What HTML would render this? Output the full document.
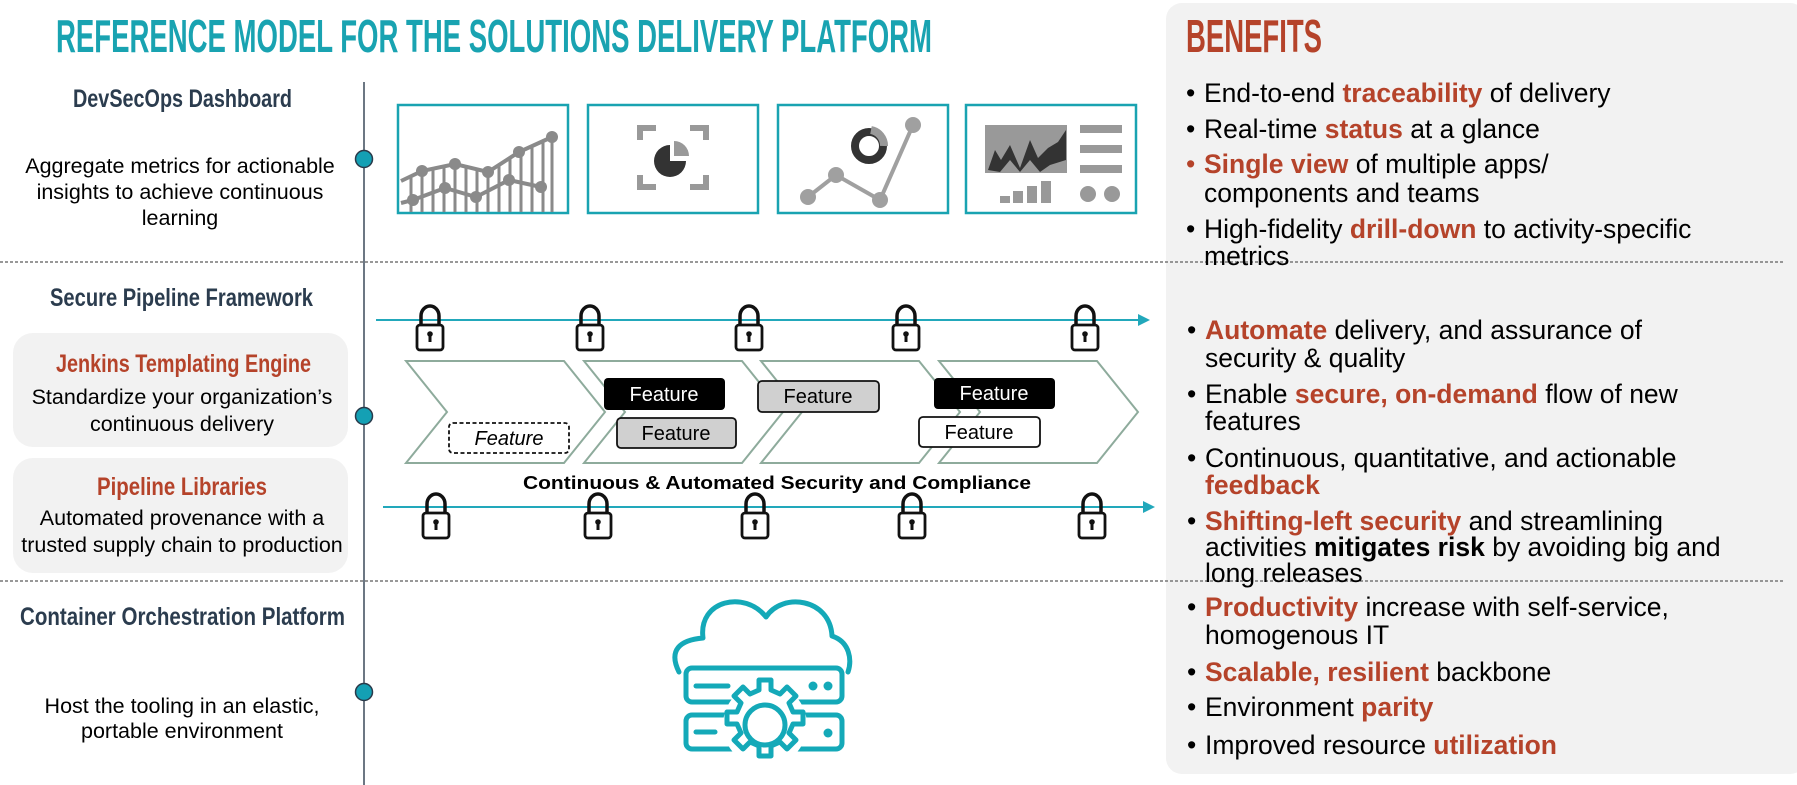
<!DOCTYPE html>
<html><head><meta charset="utf-8"><style>
html,body{margin:0;padding:0;background:#fff;}
svg{display:block;}
text{font-family:"Liberation Sans",sans-serif;}
</style></head><body>
<svg width="1797" height="785" viewBox="0 0 1797 785" xmlns="http://www.w3.org/2000/svg">
<defs>
<g id="lock">
<path d="M-9,0 V-9 A9,10 0 0 1 9,-9 V0" fill="none" stroke="#111" stroke-width="3.5"/>
<rect x="-13" y="0" width="26" height="25" rx="3" fill="#fff" stroke="#111" stroke-width="2.8"/>
<circle cx="0" cy="9" r="2.8" fill="#111"/><rect x="-1.5" y="9" width="3" height="8" fill="#111"/>
</g>
</defs>
<rect x="1166" y="3" width="640" height="771" rx="16" fill="#f2f2f2"/>
<text x="56" y="52" font-size="46" font-weight="bold" fill="#19a3b1" textLength="876" lengthAdjust="spacingAndGlyphs">REFERENCE MODEL FOR THE SOLUTIONS DELIVERY PLATFORM</text>
<text x="1186" y="52" font-size="46" font-weight="bold" fill="#b5432a" textLength="136" lengthAdjust="spacingAndGlyphs">BENEFITS</text>
<line x1="0" y1="262" x2="1785" y2="262" stroke="#777" stroke-width="1.5" stroke-dasharray="3,2"/>
<line x1="0" y1="581" x2="1785" y2="581" stroke="#777" stroke-width="1.5" stroke-dasharray="3,2"/>
<line x1="364" y1="82" x2="364" y2="785" stroke="#3b4a5a" stroke-width="1.5"/>
<circle cx="364" cy="159" r="8.5" fill="#14a0b4" stroke="#2a3a4a" stroke-width="1.5"/>
<circle cx="364" cy="416" r="8.5" fill="#14a0b4" stroke="#2a3a4a" stroke-width="1.5"/>
<circle cx="364" cy="692" r="8.5" fill="#14a0b4" stroke="#2a3a4a" stroke-width="1.5"/>
<g fill="#2b3c4e" font-weight="bold" font-size="25">
<text x="73" y="107" textLength="219" lengthAdjust="spacingAndGlyphs">DevSecOps Dashboard</text>
<text x="50" y="306" textLength="263" lengthAdjust="spacingAndGlyphs">Secure Pipeline Framework</text>
<text x="20" y="625" textLength="325" lengthAdjust="spacingAndGlyphs">Container Orchestration Platform</text>
</g>
<g font-size="21.5" fill="#000" text-anchor="middle">
<text x="180" y="173">Aggregate metrics for actionable</text>
<text x="180" y="199">insights to achieve continuous</text>
<text x="180" y="225">learning</text>
<text x="182" y="713">Host the tooling in an elastic,</text>
<text x="182" y="738">portable environment</text>
</g>
<rect x="13" y="333" width="335" height="114" rx="20" fill="#f2f2f2"/>
<rect x="13" y="458" width="335" height="115" rx="20" fill="#f2f2f2"/>
<g fill="#b5432a" font-weight="bold" font-size="25">
<text x="56" y="372" textLength="255" lengthAdjust="spacingAndGlyphs">Jenkins Templating Engine</text>
<text x="97" y="495" textLength="170" lengthAdjust="spacingAndGlyphs">Pipeline Libraries</text>
</g>
<g font-size="21.5" fill="#000" text-anchor="middle">
<text x="182" y="404">Standardize your organization’s</text>
<text x="182" y="431">continuous delivery</text>
<text x="182" y="525">Automated provenance with a</text>
<text x="182" y="552">trusted supply chain to production</text>
</g>
<g fill="#fff" stroke="#19a3b1" stroke-width="2.5">
<rect x="398" y="105" width="170" height="108"/>
<rect x="588" y="105" width="170" height="108"/>
<rect x="778" y="105" width="170" height="108"/>
<rect x="966" y="105" width="170" height="108"/>
</g>
<g stroke="#8a8a8a" stroke-width="3" fill="none">
<path d="M411,176V212M422,171V212M433,169V212M444,167V212M455,164V212M466,167V212M477,170V212M488,172V212M499,165V212M510,158V212M521,151V212M532,146V212M543,141V212M552,137V212"/>
<path d="M401,181L422,171L455,164L488,172L519,152L552,137" stroke-width="4"/>
<path d="M401,203L413,200L445,188L476,197L509,180L541,187" stroke-width="4"/>
</g>
<g fill="#8a8a8a">
<circle cx="422" cy="171" r="6"/><circle cx="455" cy="164" r="6"/><circle cx="488" cy="172" r="6"/><circle cx="519" cy="152" r="6"/><circle cx="552" cy="137" r="6"/>
<circle cx="413" cy="200" r="6"/><circle cx="445" cy="188" r="6"/><circle cx="476" cy="197" r="6"/><circle cx="509" cy="180" r="6"/><circle cx="541" cy="187" r="6"/>
</g>
<g fill="none" stroke="#999" stroke-width="6">
<path d="M640,140V128H656M690,128H706V140M640,175V187H656M690,187H706V175"/>
</g>
<path d="M670,145 A16,16 0 1 0 686,161 H670Z" fill="#333"/>
<path d="M674,141 A15,15 0 0 1 689,156 H674Z" fill="#999"/>
<g stroke="#a0a0a0" stroke-width="4" fill="none"><path d="M808,197L836,175L880,200L913,125"/></g>
<g fill="#a0a0a0"><circle cx="808" cy="197" r="8"/><circle cx="836" cy="175" r="8"/><circle cx="880" cy="200" r="8"/><circle cx="913" cy="125" r="8"/></g>
<circle cx="869" cy="146" r="14" fill="none" stroke="#333" stroke-width="8"/>
<path d="M871,130 A16,16 0 0 1 884,146" fill="none" stroke="#999" stroke-width="8"/>
<rect x="985" y="125" width="82" height="48" fill="#999"/>
<path d="M988,170L995,150L1001,160L1010,145L1020,168L1030,140L1038,158L1048,148L1058,142L1066,130V160L1050,165L1040,172L1030,160L1020,172L1010,160L1000,172Z" fill="#333"/>
<g fill="#999"><rect x="1080" y="125" width="42" height="8"/><rect x="1080" y="145" width="42" height="8"/><rect x="1080" y="165" width="42" height="8"/>
<rect x="1000" y="196" width="10" height="7"/><rect x="1013" y="191" width="10" height="12"/><rect x="1027" y="186" width="10" height="17"/><rect x="1041" y="181" width="10" height="22"/>
<circle cx="1088" cy="194" r="8"/><circle cx="1112" cy="194" r="8"/></g>
<line x1="376" y1="320" x2="1140" y2="320" stroke="#22a8bb" stroke-width="2"/>
<path d="M1138,314L1150,320L1138,326Z" fill="#22a8bb"/>
<line x1="383" y1="507" x2="1145" y2="507" stroke="#22a8bb" stroke-width="2"/>
<path d="M1143,501L1155,507L1143,513Z" fill="#22a8bb"/>
<use href="#lock" x="430" y="325"/><use href="#lock" x="590" y="325"/><use href="#lock" x="749" y="325"/><use href="#lock" x="906" y="325"/><use href="#lock" x="1085" y="325"/>
<use href="#lock" x="436" y="513"/><use href="#lock" x="598" y="513"/><use href="#lock" x="755" y="513"/><use href="#lock" x="912" y="513"/><use href="#lock" x="1092" y="513"/>
<g fill="#fff" stroke="#8eab9c" stroke-width="2">
<path d="M406,361H564L605,412L564,463H406L447,412Z"/>
<path d="M584,361H742L783,412L742,463H584L625,412Z"/>
<path d="M761,361H919L960,412L919,463H761L802,412Z"/>
<path d="M939,361H1097L1138,412L1097,463H939L980,412Z"/>
</g>
<rect x="449" y="423" width="120" height="30" rx="4" fill="#fff" stroke="#111" stroke-width="1.8" stroke-dasharray="4,2.5"/>
<text x="509" y="445" font-size="20" font-style="italic" text-anchor="middle">Feature</text>
<rect x="604" y="378" width="121" height="32" rx="4" fill="#000"/>
<text x="664" y="401" font-size="20" fill="#fff" text-anchor="middle">Feature</text>
<rect x="617" y="418" width="119" height="30" rx="4" fill="#d0d0d0" stroke="#111" stroke-width="1.8"/>
<text x="676" y="440" font-size="20" text-anchor="middle">Feature</text>
<rect x="758" y="381" width="121" height="31" rx="4" fill="#d0d0d0" stroke="#111" stroke-width="1.8"/>
<text x="818" y="403" font-size="20" text-anchor="middle">Feature</text>
<rect x="934" y="378" width="121" height="31" rx="4" fill="#000"/>
<text x="994" y="400" font-size="20" fill="#fff" text-anchor="middle">Feature</text>
<rect x="919" y="417" width="121" height="30" rx="4" fill="#fff" stroke="#111" stroke-width="1.8"/>
<text x="979" y="439" font-size="20" text-anchor="middle">Feature</text>
<text x="523" y="489" font-size="18" font-weight="bold" textLength="508" lengthAdjust="spacingAndGlyphs">Continuous &amp; Automated Security and Compliance</text>
<g fill="none" stroke="#14a9b8" stroke-width="5" stroke-linejoin="round" stroke-linecap="round">
<path d="M679,672 C668,650 680,640 703,638 C698,600 745,590 766,617 C782,592 830,598 832,636 C850,642 852,660 848,672"/>
<rect x="686" y="668" width="156" height="34" rx="6"/>
<rect x="686" y="715" width="156" height="34" rx="6"/>
<line x1="696" y1="686" x2="728" y2="686"/><line x1="696" y1="732" x2="715" y2="732"/>
</g>
<g fill="#14a9b8"><circle cx="813" cy="686" r="4.5"/><circle cx="828" cy="686" r="4.5"/><circle cx="828" cy="733" r="4.5"/></g>
<circle cx="765" cy="725" r="42" fill="#fff" stroke="none"/>
<g fill="#fff" stroke="#14a9b8" stroke-width="5" stroke-linejoin="round">
<path d="M759,680h12v10l9,4l7,-7l9,9l-7,7l4,9h10v12h-10l-4,9l7,7l-9,9l-7,-7l-9,4v10h-12v-10l-9,-4l-7,7l-9,-9l7,-7l-4,-9h-10v-12h10l4,-9l-7,-7l9,-9l7,7l9,-4Z"/>
<circle cx="765" cy="725" r="20"/>
</g>
<g font-size="26.5" fill="#000">
<text x="1186" y="102">•</text><text x="1204" y="102">End-to-end <tspan fill="#b5432a" font-weight="bold">traceability</tspan> of delivery</text>
<text x="1186" y="138">•</text><text x="1204" y="138">Real-time <tspan fill="#b5432a" font-weight="bold">status</tspan> at a glance</text>
<text x="1186" y="173" fill="#b5432a">•</text><text x="1204" y="173"><tspan fill="#b5432a" font-weight="bold">Single view</tspan> of multiple apps/</text>
<text x="1204" y="202">components and teams</text>
<text x="1186" y="238">•</text><text x="1204" y="238">High-fidelity <tspan fill="#b5432a" font-weight="bold">drill-down</tspan> to activity-specific</text>
<text x="1204" y="265">metrics</text>
<text x="1187" y="339">•</text><text x="1205" y="339"><tspan fill="#b5432a" font-weight="bold">Automate</tspan>  delivery, and assurance of</text>
<text x="1205" y="367">security &amp; quality</text>
<text x="1187" y="403">•</text><text x="1205" y="403">Enable <tspan fill="#b5432a" font-weight="bold">secure, on-demand</tspan>  flow of new</text>
<text x="1205" y="430">features</text>
<text x="1187" y="467">•</text><text x="1205" y="467">Continuous, quantitative, and actionable</text>
<text x="1205" y="494" fill="#b5432a" font-weight="bold">feedback</text>
<text x="1187" y="530">•</text><text x="1205" y="530"><tspan fill="#b5432a" font-weight="bold">Shifting-left security</tspan> and streamlining</text>
<text x="1205" y="556">activities <tspan font-weight="bold">mitigates risk</tspan> by avoiding big and</text>
<text x="1205" y="582">long releases</text>
<text x="1187" y="616">•</text><text x="1205" y="616"><tspan fill="#b5432a" font-weight="bold">Productivity</tspan> increase with self-service,</text>
<text x="1205" y="644">homogenous IT</text>
<text x="1187" y="681">•</text><text x="1205" y="681"><tspan fill="#b5432a" font-weight="bold">Scalable, resilient</tspan> backbone</text>
<text x="1187" y="716">•</text><text x="1205" y="716">Environment <tspan fill="#b5432a" font-weight="bold">parity</tspan></text>
<text x="1187" y="754">•</text><text x="1205" y="754">Improved resource <tspan fill="#b5432a" font-weight="bold">utilization</tspan></text>
</g>
</svg>
</body></html>
